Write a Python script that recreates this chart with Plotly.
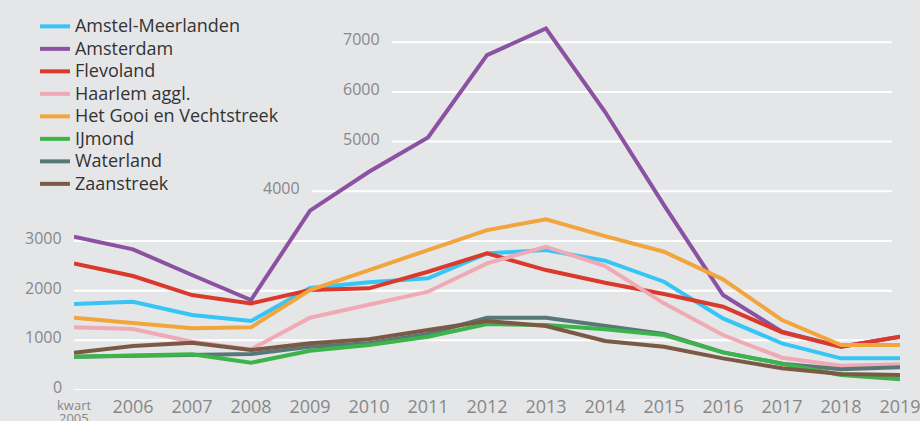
import plotly.graph_objects as go

years = list(range(2005, 2020))
year_labels = ["kwart 2005"] + [str(y) for y in range(2006, 2020)]

series_names = ["Amstel-Meerlanden", "Amsterdam", "Flevoland", "Haarlem aggl.",
                "Het Gooi en Vechtstreek", "IJmond", "Waterland", "Zaanstreek"]

amstel_meerlanden = [1730, 1777, 1509, 1388, 2055, 2167, 2247, 2750, 2817, 2602, 2180, 1442, 939, 637, 637]
amsterdam = [3085, 2830, 2314, 1811, 3610, 4392, 5084, 6740, 7277, 5600, 3722, 1911, 1173, 872, 1073]
flevoland = [2549, 2294, 1911, 1744, 2012, 2046, 2381, 2750, 2414, 2159, 1932, 1677, 1161, 872, 1073]
haarlem = [1261, 1227, 973, 818, 1455, 1710, 1979, 2549, 2884, 2495, 1744, 1107, 650, 489, 517]
het_gooi = [1455, 1341, 1241, 1261, 2012, 2414, 2817, 3219, 3434, 3098, 2783, 2227, 1408, 905, 905]
ijmond = [670, 684, 718, 549, 791, 905, 1073, 1328, 1308, 1221, 1107, 758, 523, 302, 215]
waterland = [670, 684, 718, 724, 872, 939, 1127, 1455, 1455, 1288, 1127, 758, 530, 416, 456]
zaanstreek = [751, 885, 952, 805, 939, 1020, 1207, 1388, 1288, 986, 872, 637, 436, 322, 302]

series_values = [amstel_meerlanden, amsterdam, flevoland, haarlem, het_gooi, ijmond, waterland, zaanstreek]
colors = ["#36c5f4", "#8b52a1", "#d93a2b", "#f0aab5", "#f2a53c", "#3cb44a", "#587877", "#7b5a45"]

grid_values = [0, 1000, 2000, 3000, 4000, 5000, 6000, 7000]
grid_labels = ["0", "1000", "2000", "3000", "4000", "5000", "6000", "7000"]
# left start of each gridline (paper fraction of plot width)
grid_start = [0.0, 0.0, 0.0, 0.0, 0.288, 0.385, 0.385, 0.385]

fig = go.Figure()

draw_order = [0, 1, 2, 3, 4, 6, 5, 7]
for i in draw_order:
    fig.add_trace(go.Scatter(
        x=years, y=series_values[i], mode="lines",
        name='<span style="font-size:18px">' + series_names[i] + '</span>',
        line=dict(color=colors[i], width=4), legendrank=i + 1,
    ))

shapes = []
annotations = []
for v, lab, xs in zip(grid_values, grid_labels, grid_start):
    shapes.append(dict(type="line", xref="paper", yref="y", x0=xs, x1=0.990, y0=v, y1=v,
                       line=dict(color="#ffffff", width=2), layer="below"))
    annotations.append(dict(xref="paper", yref="y", x=xs - 0.012, y=v, text=lab,
                            showarrow=False, xanchor="right", yanchor="middle", yshift=3,
                            font=dict(family="Open Sans", size=16, color="#888888")))

first = year_labels[0].split(" ")
annotations.append(dict(xref="x", yref="paper", x=years[0], y=0, text=first[0], showarrow=False,
                        xanchor="center", yanchor="top", yshift=-4,
                        font=dict(family="Open Sans", size=13, color="#888888")))
annotations.append(dict(xref="x", yref="paper", x=years[0], y=0, text=first[1], showarrow=False,
                        xanchor="center", yanchor="top", yshift=-17,
                        font=dict(family="Open Sans", size=13, color="#888888")))

fig.update_layout(
    width=920, height=421,
    margin=dict(l=74, r=20, t=0, b=31, autoexpand=False),
    paper_bgcolor="#e5e6e8", plot_bgcolor="#e5e6e8",
    shapes=shapes, annotations=annotations,
    showlegend=True,
    legend=dict(xref="container", yref="container", x=0.038, y=0.976,
                xanchor="left", yanchor="top", bgcolor="rgba(0,0,0,0)",
                font=dict(family="Open Sans", size=15, color="#333333"),
                itemwidth=30, tracegroupgap=0),
    xaxis=dict(range=[2005, 2019], tickvals=years[1:], ticktext=year_labels[1:],
               showgrid=False, zeroline=False, showline=False, ticks="", automargin=False,
               ticklabeloverflow="allow", ticklabelstandoff=4,
               tickfont=dict(family="Open Sans", size=18, color="#888888")),
    yaxis=dict(range=[0, 7850], showgrid=False, zeroline=False, showticklabels=False,
               ticks="", automargin=False),
)

fig.write_html("out.html", config={"displayModeBar": False},
               post_script="document.body.style.margin='0px';document.body.style.overflow='hidden';document.body.style.background='#e5e6e8';")
